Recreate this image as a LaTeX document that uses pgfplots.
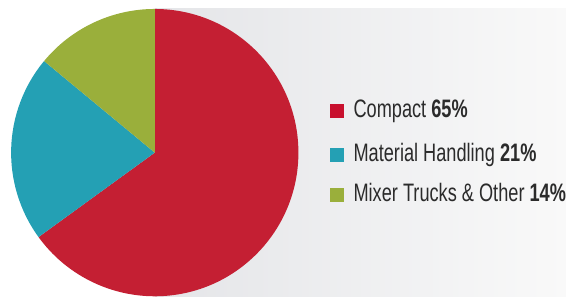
\documentclass[border=0pt]{standalone}
\usepackage{pgfplots}
\pgfplotsset{compat=1.18}
\usepackage{fontspec}
\setmainfont{Liberation Sans}
\newfontfamily\narrowfont[FakeStretch=0.72]{Liberation Sans}
\definecolor{pieRed}{HTML}{C41F33}
\definecolor{pieTeal}{HTML}{24A0B4}
\definecolor{pieGreen}{HTML}{9AAF3B}
\definecolor{legRed}{HTML}{C8102E}
\definecolor{txt}{HTML}{2B2B2B}
\definecolor{bgL}{HTML}{E4E5E8}
\definecolor{bgR}{HTML}{F9F9F9}
\begin{document}
\begin{tikzpicture}
\begin{axis}[
  scale only axis, width=14.15cm, height=7.425cm,
  xmin=0, xmax=566, ymin=0, ymax=297,
  hide axis, clip=false,
]
\path (axis cs:0,0) rectangle (axis cs:566,297);
% background panel
\fill[left color=bgL, right color=bgR] (axis cs:154,0) rectangle (axis cs:566,288);
% pie: values 65, 21, 14, clockwise from top
\pgfmathsetmacro{\aA}{90}
\pgfmathsetmacro{\aB}{90-65*3.6}
\pgfmathsetmacro{\aC}{\aB-21*3.6}
\pgfmathsetmacro{\aD}{\aC-14*3.6}
\fill[pieRed] (axis cs:154,144) -- (axis cs:154,288) arc[start angle=\aA, end angle=\aB, radius=3.6cm] -- cycle;
\fill[pieTeal] (axis cs:154,144) -- ++(\aB:3.6cm) arc[start angle=\aB, end angle=\aC, radius=3.6cm] -- cycle;
\fill[pieGreen] (axis cs:154,144) -- ++(\aC:3.6cm) arc[start angle=\aC, end angle=\aD, radius=3.6cm] -- cycle;
% legend
\fill[legRed] (axis cs:330,179) rectangle (axis cs:344,193);
\fill[pieTeal] (axis cs:330,135) rectangle (axis cs:344,149);
\fill[pieGreen] (axis cs:330,95) rectangle (axis cs:344,109);
\node[anchor=base west, text=txt, font=\narrowfont\fontsize{18}{20}\selectfont, inner sep=0pt] at (axis cs:353,179) {Compact \textbf{65\%}};
\node[anchor=base west, text=txt, font=\narrowfont\fontsize{18}{20}\selectfont, inner sep=0pt] at (axis cs:353,135) {Material Handling \textbf{21\%}};
\node[anchor=base west, text=txt, font=\narrowfont\fontsize{18}{20}\selectfont, inner sep=0pt] at (axis cs:353,95) {Mixer Trucks \& Other \textbf{14\%}};
\end{axis}
\end{tikzpicture}
\end{document}
